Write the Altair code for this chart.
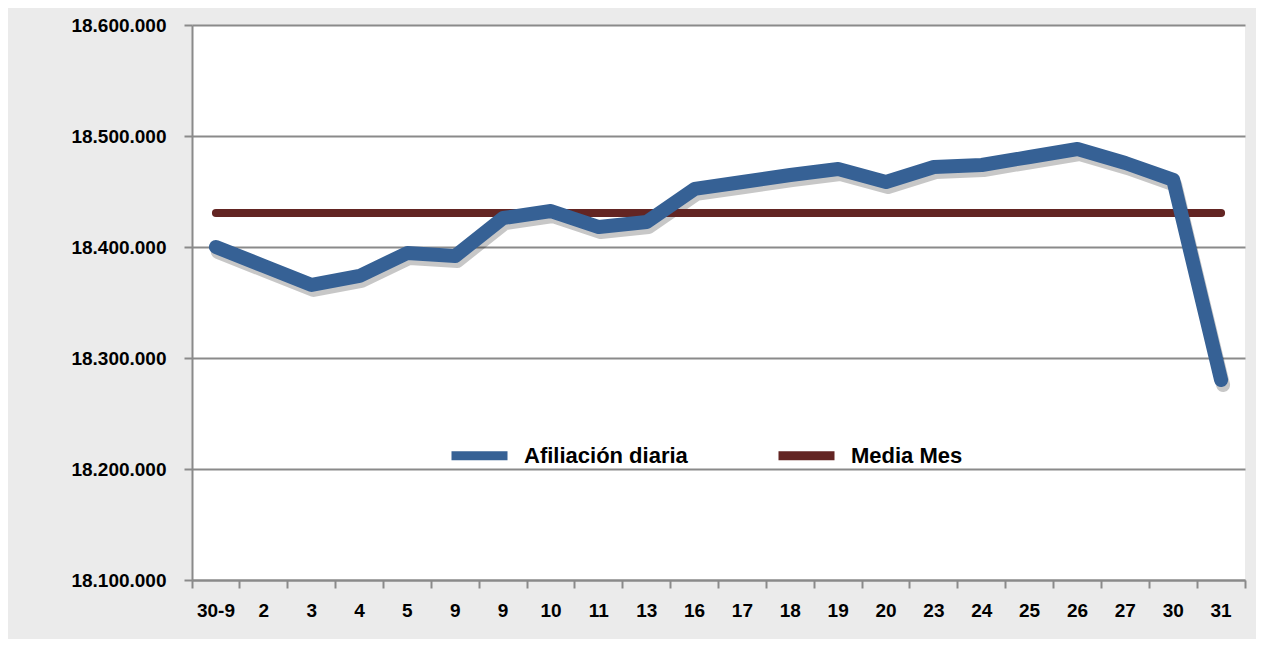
import altair as alt
import pandas as pd

dias = ["30-9", "2", "3", "4", "5", "9", "9", "10", "11", "13", "16", "17",
        "18", "19", "20", "23", "24", "25", "26", "27", "30", "31"]
afiliacion = [18400000, 18382900, 18365800, 18373900, 18394600, 18391900,
              18426100, 18432400, 18418000, 18422500, 18452300, 18458600,
              18464900, 18470300, 18458600, 18472100, 18473900, 18481100,
              18488300, 18475700, 18460400, 18280200]
media_mes = 18430600
series = ["Afiliación diaria", "Media Mes"]
colores = ["#366195", "#632523"]
y_ticks = [18100000, 18200000, 18300000, 18400000, 18500000, 18600000]

rows = []
for i, (d, v) in enumerate(zip(dias, afiliacion)):
    rows.append({"idx": i, "dia": d, "valor": v, "serie": series[0]})
    rows.append({"idx": i, "dia": d, "valor": media_mes, "serie": series[1]})
df = pd.DataFrame(rows)

label_map = "{" + ",".join(f"{i}:'{d}'" for i, d in enumerate(dias)) + "}"

font = "Liberation Sans"

x_enc = alt.X(
    "idx:O",
    sort=list(range(len(dias))),
    scale=alt.Scale(type="band", paddingInner=0, paddingOuter=0),
    axis=alt.Axis(
        title=None,
        labelExpr=f"{label_map}[datum.value]",
        labelAngle=0,
        bandPosition=1,
        tickExtra=True,
        tickSize=8,
        tickWidth=2,
        tickColor="#8a8a8a",
        domainColor="#8a8a8a",
        domainWidth=2,
        labelPadding=13,
        labelFont=font,
        labelFontSize=19,
        labelFontWeight="bold",
        labelColor="#000000",
        grid=False,
    ),
)
y_enc = alt.Y(
    "valor:Q",
    scale=alt.Scale(domain=[18100000, 18600000], nice=False, zero=False),
    axis=alt.Axis(
        title=None,
        values=y_ticks,
        labelExpr="replace(replace(format(datum.value, ','), ',', '.'), ',', '.')",
        tickSize=8,
        tickWidth=2,
        tickColor="#8a8a8a",
        domainColor="#8a8a8a",
        domainWidth=2,
        gridColor="#8a8a8a",
        gridWidth=2,
        gridOpacity=1,
        labelPadding=18,
        labelFont=font,
        labelFontSize=19,
        labelFontWeight="bold",
        labelColor="#000000",
    ),
)
color_enc = alt.Color(
    "serie:N",
    scale=alt.Scale(domain=series, range=colores),
    legend=alt.Legend(
        title=None,
        orient="none",
        legendX=255,
        legendY=398,
        direction="horizontal",
        symbolType="stroke",
        symbolSize=3136,
        symbolStrokeWidth=9,
        labelFont=font,
        labelFontSize=22,
        labelFontWeight="bold",
        labelColor="#000000",
        labelLimit=400,
        columnPadding=72,
        labelOffset=12,
    ),
)

base = alt.Chart(df)

sombra = base.transform_filter(alt.datum.serie == series[0]).mark_line(
    strokeWidth=14, color="#000000", opacity=0.22, strokeCap="round",
    strokeJoin="round", yOffset=5, xOffset=2
).encode(x=x_enc, y=y_enc, detail="serie:N")

linea = base.transform_filter(alt.datum.serie == series[0]).mark_line(
    strokeWidth=14, strokeCap="round", strokeJoin="round"
).encode(x=x_enc, y=y_enc, color=color_enc)

media = base.transform_filter(alt.datum.serie == series[1]).mark_line(
    strokeWidth=8, strokeCap="round"
).encode(x=x_enc, y=y_enc, color=color_enc)

chart = alt.layer(sombra, media, linea).properties(
    width=1053,
    height=555,
    padding={"left": 184, "top": 17, "right": 11, "bottom": 59},
    autosize=alt.AutoSizeParams(type="none"),
    background="#ebebeb",
).configure_view(fill="#ffffff", stroke=None)

chart.save("out.html", embed_options={"renderer": "svg", "actions": False})
